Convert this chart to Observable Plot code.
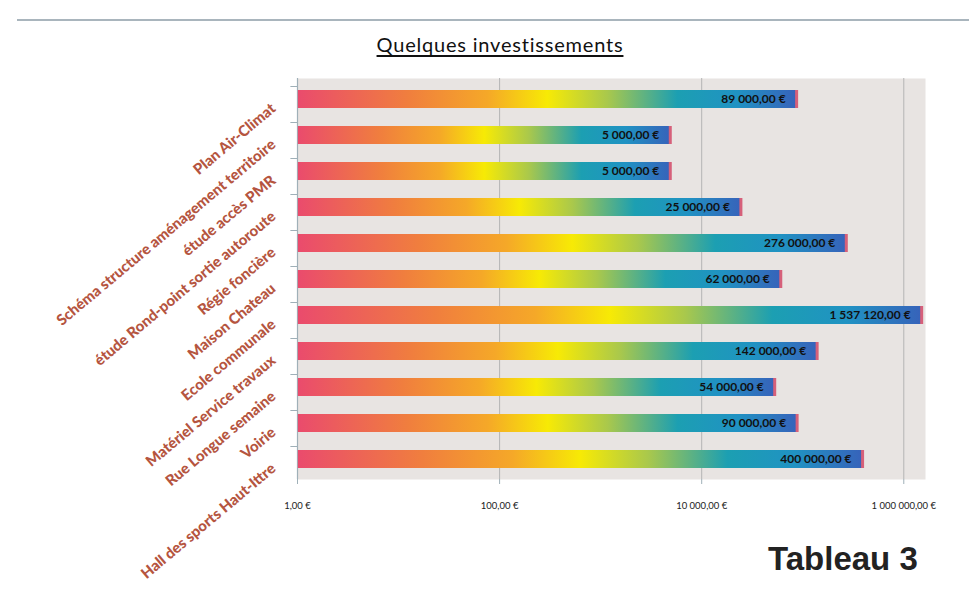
<!DOCTYPE html>
<html><head><meta charset="utf-8">
<script src="https://cdn.jsdelivr.net/npm/d3@7"></script>
<script src="https://cdn.jsdelivr.net/npm/@observablehq/plot@0.6"></script>
<style>
html,body{margin:0;padding:0;background:#fff;}
#wrap{position:relative;width:969px;height:589px;overflow:hidden;}
#topline{position:absolute;left:17px;top:19px;width:952px;height:2px;background:#a9b5bd;}
#title{position:absolute;left:0;width:1000px;top:32px;text-align:center;font-family:Lato,sans-serif;font-size:20px;letter-spacing:0.8px;color:#111;text-decoration:underline;text-underline-offset:3px;}
#tab{position:absolute;left:768px;top:540px;font-family:"Liberation Sans",Arial,sans-serif;font-weight:bold;font-size:33px;color:#222;}
#chart{position:absolute;left:0;top:0;}
</style></head>
<body><div id="wrap"><div id="topline"></div><div id="title">Quelques investissements</div><div id="chart"></div><div id="tab">Tableau 3</div></div>
<script>
const categories = ["Plan Air-Climat","Schéma structure aménagement territoire","étude accès PMR","étude Rond-point sortie autoroute","Régie foncière","Maison Chateau","Ecole communale","Matériel Service travaux","Rue Longue semaine","Voirie","Hall des sports Haut-Ittre"];
const values = [89000,5000,5000,25000,276000,62000,1537120,142000,54000,90000,400000];
const valueLabels = ["89 000,00 €","5 000,00 €","5 000,00 €","25 000,00 €","276 000,00 €","62 000,00 €","1 537 120,00 €","142 000,00 €","54 000,00 €","90 000,00 €","400 000,00 €"];
const tickValues = [1,100,10000,1000000];
const tickLabels = ["1,00 €","100,00 €","10 000,00 €","1 000 000,00 €"];

const data = categories.map((c,i)=>({cat:c, value:values[i], label:valueLabels[i]}));

const chart = Plot.plot({
  width: 969, height: 589,
  marginLeft: 297, marginRight: 44, marginTop: 78, marginBottom: 110,
  style: {background:"transparent", overflow:"visible"},
  x: {type:"log", domain:[1, 1.64e6]},
  y: {domain: categories, paddingInner: 0.5, paddingOuter: 0.25, axis: null},
  marks: [
    Plot.frame({fill:"#e8e4e2", stroke:null}),
    Plot.ruleX(tickValues.slice(1), {stroke:"#b4b4b4", strokeWidth:1}),
    Plot.ruleX([1], {stroke:"#9fb0b8", strokeWidth:1.2}),
    Plot.ruleY(categories, {y:d=>d, x1:0.86, x2:1, dy:-13, stroke:"#9fb0b8"}),
    Plot.barX(data, {y:"cat", x1:1.02, x2:"value", fill:"url(#barGrad)"}),
    Plot.tickX(data, {y:"cat", x:"value", stroke:"#d6607a", strokeWidth:3, dx:-1}),
    Plot.text(data, {y:"cat", x:"value", text:"label", textAnchor:"end", dx:-12, fontWeight:"bold", fontSize:12, fill:"#111", fontFamily:"Lato, sans-serif"}),
    Plot.text(categories, {y:d=>d, text:d=>d, frameAnchor:"left", dx:-24, dy:7, rotate:-40, textAnchor:"end", fontWeight:900, fontSize:15, fill:"#b5553f", fontFamily:"Lato, sans-serif"}),
    Plot.axisX({ticks:tickValues, tickFormat:(d)=>tickLabels[tickValues.indexOf(d)], tickSize:5, tickPadding:18, fontSize:9.5, fontFamily:"Lato, sans-serif", stroke:"#9fb0b8", color:"#222", label:null})
  ]
});
document.getElementById("chart").appendChild(chart);
const ns = "http://www.w3.org/2000/svg";
const defs = document.createElementNS(ns,"defs");
defs.innerHTML = `<linearGradient id="barGrad" x1="0" y1="0" x2="1" y2="0">
<stop offset="0" stop-color="#ea4b6d"/>
<stop offset="0.22" stop-color="#f07e3e"/>
<stop offset="0.38" stop-color="#f5a828"/>
<stop offset="0.5" stop-color="#f7ea05"/>
<stop offset="0.62" stop-color="#a9c84c"/>
<stop offset="0.76" stop-color="#1c9fb2"/>
<stop offset="0.88" stop-color="#2092c3"/>
<stop offset="1" stop-color="#3762ba"/>
</linearGradient>`;
chart.insertBefore(defs, chart.firstChild);
</script>
</body></html>
